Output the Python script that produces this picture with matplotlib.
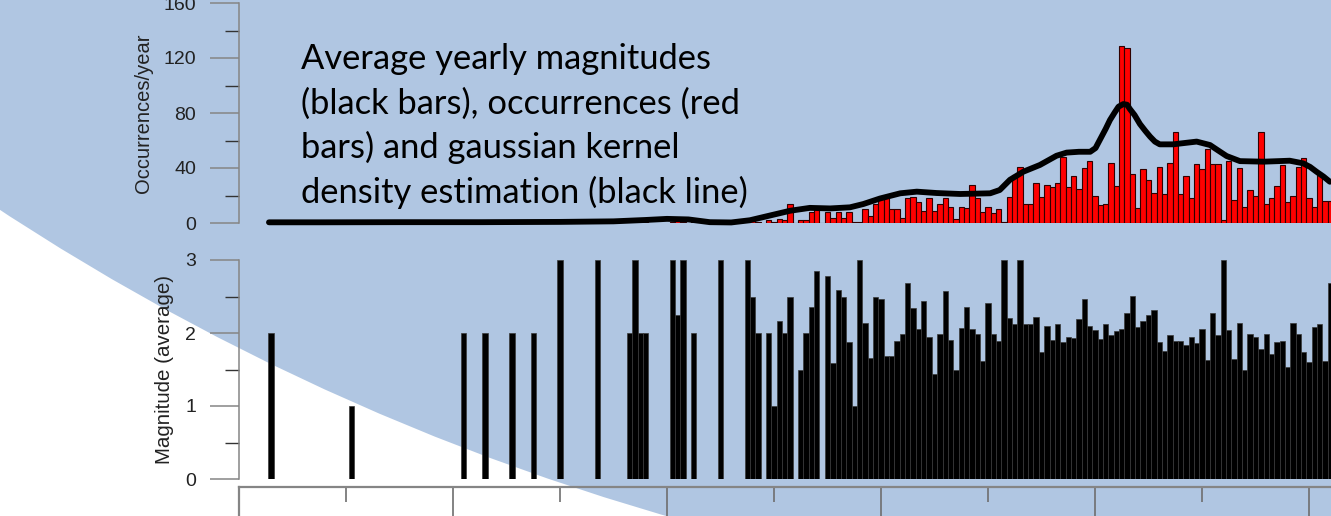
import numpy as np
import matplotlib
matplotlib.use('Agg')
import matplotlib.pyplot as plt
from matplotlib.patches import Ellipse

# years with isolated events before the dense record
early_years = [1806, 1821, 1842, 1846, 1851, 1855, 1860, 1867, 1873, 1874, 1875, 1876,
               1881, 1882, 1883, 1885, 1890, 1895, 1896, 1897]
early_mag = [2, 1, 2, 2, 2, 2, 3, 3, 2, 3, 2, 2, 3, 2.25, 3, 2, 3, 3, 2.5, 2]
early_occ = [1, 1, 1, 1, 1, 1, 1, 1, 2, 1, 1, 1, 1, 4, 1, 1, 1, 1, 2, 1]

# continuous record 1899-2004 (0 = no event that year)
dense_start = 1899
dense_mag = [2, 1, 2.16, 2, 2.5, 0, 1.49, 2, 2.36, 2.85, 0, 2.78, 1.59, 2.59, 2.5, 1.87,
             1, 3, 2.14, 1.66, 2.5, 2.47,
             1.68, 1.69, 1.89, 1.99, 2.68, 2.34, 2.06, 2.44, 1.94, 1.44, 1.99, 2.57, 1.91,
             1.49, 2.07, 2.35, 2.06, 1.99, 1.62, 2.41, 1.99, 1.89, 3, 2.2, 2.13, 3, 2.13,
             2.13, 2.22, 1.74, 2.1, 1.91, 2.13, 1.87, 1.95, 1.93, 2.19, 2.47, 2.1, 2.04,
             1.92, 2.13, 1.97, 2.03, 2.06, 2.28, 2.51, 2.08, 2.17, 2.25, 2.31, 1.87, 1.75,
             1.97, 1.89, 1.89, 1.84, 1.94, 1.86, 2.05, 1.63, 2.27, 1.97, 3, 2.04, 1.64, 2.14,
             1.49, 1.99, 1.94, 1.78, 1.99, 1.71, 1.87, 1.89, 1.53, 2.14, 1.99, 1.74, 1.6,
             2.08, 2.12, 1.61, 2.68]
dense_occ = [2, 1, 3, 2, 14, 0, 2, 2, 8, 12, 0, 8, 4, 8, 4, 8, 1, 1, 10, 5, 14, 18,
             19, 10, 10, 4, 18, 19, 15, 9, 18, 9, 14, 18, 12, 3, 12, 11, 28, 18, 8, 12,
             7, 10, 1, 19, 35, 41, 14, 14, 29, 19, 28, 26, 29, 48, 26, 34, 25, 40, 45, 20,
             13, 14, 44, 27, 129, 127, 36, 11, 39, 31, 22, 41, 21, 44, 66, 21, 34, 18, 43,
             39, 54, 43, 43, 2, 45, 17, 40, 12, 24, 20, 66, 14, 18, 27, 42, 15, 20, 41, 47,
             18, 12, 35, 16, 16]

# kernel density curve, scaled to occurrences/year
kde_years = [1805.6, 1815, 1830, 1845, 1860, 1870, 1876, 1880, 1884, 1888, 1892, 1895.5,
             1899.3, 1903, 1906.7, 1910.5, 1914.2, 1916.7, 1919.8, 1923.6, 1926.7, 1930.4,
             1934.8, 1940.4, 1942.2, 1944.1, 1946.6, 1949.7, 1952.8, 1954.7, 1957, 1959.1,
             1960.1, 1960.9, 1962, 1962.8, 1963.7, 1964.4, 1965.3, 1966.0, 1966.5, 1967.4,
             1968.4, 1969.4, 1970.3, 1971.2, 1972.1, 1974.6, 1977, 1979, 1981.5,
             1983, 1984.6, 1987.1, 1991.5, 1996.4, 1998.9, 2000.2, 2001.4, 2002.7, 2003.9]
kde_vals = [0.5, 0.5, 0.6, 0.6, 0.8, 1.2, 2.2, 3.0, 2.6, 0.6, 0.4, 2.0,
            5.5, 8.9, 11.0, 10.6, 11.4, 13.8, 17.8, 21.6, 22.8, 21.8,
            21.1, 21.6, 24, 31.4, 37.3, 42.2, 48.9, 51.2, 51.8, 51.8,
            54.5, 60.4, 68.5, 74.9, 80.5, 84.6, 86.5, 86.0, 83, 78.5,
            72, 67, 62.8, 59.2, 57.2, 57.2, 58.3, 59.2, 56.7,
            52.8, 48.7, 45, 44.6, 45.3, 43.4, 40.8, 37.3, 33.8, 30]

years = np.array(early_years + list(range(dense_start, dense_start + len(dense_mag))))
mag = np.array(early_mag + dense_mag)
occ = np.array(early_occ + dense_occ)

W, H = 1331, 516
x0, px_year = 1800, 5.35
xmax = x0 + (W - 239) / px_year
grey = '#858585'
plt.rcParams['font.family'] = ['Liberation Sans', 'DejaVu Sans']


def box(left, top, right, bottom):
    return [left / W, 1 - bottom / H, (right - left) / W, (bottom - top) / H]


fig = plt.figure(figsize=(W / 100, H / 100), dpi=100, facecolor='white')
fig.patches.append(Ellipse((1346 / W, 1 + 1842 / H), 2 * 2454 / W, 2 * 2454 / H,
                           transform=fig.transFigure, facecolor='#b0c6e2',
                           edgecolor='none', zorder=-1))


def r_axis(ax, ymax, major, minor):
    ax.set_facecolor('none')
    for s in ['top', 'right', 'bottom']:
        ax.spines[s].set_visible(False)
    ax.spines['left'].set_bounds(0, ymax)
    ax.spines['left'].set_color(grey)
    ax.spines['left'].set_linewidth(1.1)
    ax.set_xlim(x0, xmax)
    ax.set_ylim(0, ymax)
    ax.set_xticks([])
    ax.set_yticks(major)
    ax.set_yticks(minor, minor=True)
    ax.tick_params(axis='y', which='major', length=21, width=1.1, color=grey,
                   pad=10, labelsize=14, labelcolor='#222222')
    ax.tick_params(axis='y', which='minor', length=10, width=1.0, color='#333333')


# occurrences per year with density curve
ax1 = fig.add_axes(box(239, 3, W, 223))
r_axis(ax1, 160, [0, 40, 80, 120, 160], [20, 60, 100, 140])
ax1.bar(years, occ, width=1.0, color='#ff0000', edgecolor='#300000', linewidth=0.8)
ax1.plot(kde_years, kde_vals, color='black', lw=4.2, solid_capstyle='round',
         solid_joinstyle='round', clip_on=False, zorder=3)
ax1.set_ylabel('Occurrences/year', fontsize=14.5, color='#222222', va='center')
ax1.yaxis.set_label_coords((143 - 239) / (W - 239), 0.5)

# average magnitude per year
ax2 = fig.add_axes(box(239, 260, W, 479))
r_axis(ax2, 3, [0, 1, 2, 3], [0.5, 1.5, 2.5])
ax2.bar(years, mag, width=1.0, color='black', edgecolor='#3a3a3a', linewidth=0.5)
ax2.set_ylabel('Magnitude (average)', fontsize=14.8, color='#222222', va='center')
ax2.yaxis.set_label_coords((165 - 239) / (W - 239), 0.5)

# frame of the panel below
ax3 = fig.add_axes(box(239, 487, W, 800))
ax3.set_facecolor('none')
for s in ['right', 'bottom']:
    ax3.spines[s].set_visible(False)
for s in ['top', 'left']:
    ax3.spines[s].set_color(grey)
    ax3.spines[s].set_linewidth(1.6)
ax3.set_xlim(x0, xmax)
ax3.set_yticks([])
ax3.xaxis.set_ticks_position('top')
ax3.set_xticks(np.arange(1800, 2001, 40))
ax3.set_xticks(np.arange(1820, 2001, 40), minor=True)
ax3.tick_params(axis='x', which='major', direction='in', length=30, width=1.2,
                color='#6e6e6e', labeltop=False)
ax3.tick_params(axis='x', which='minor', direction='in', length=11, width=1.2,
                color='#6e6e6e', labeltop=False)

note = ['Average yearly magnitudes', '(black bars), occurrences (red',
        'bars) and gaussian kernel', 'density estimation (black line)']
for i, line in enumerate(note):
    fig.text(301 / W, 1 - (69 + 44.7 * i) / H, line, family=['Lato', 'DejaVu Sans'],
             fontsize=24.8, va='baseline', ha='left', color='black')

fig.savefig('out.png', dpi=100, facecolor='white')
